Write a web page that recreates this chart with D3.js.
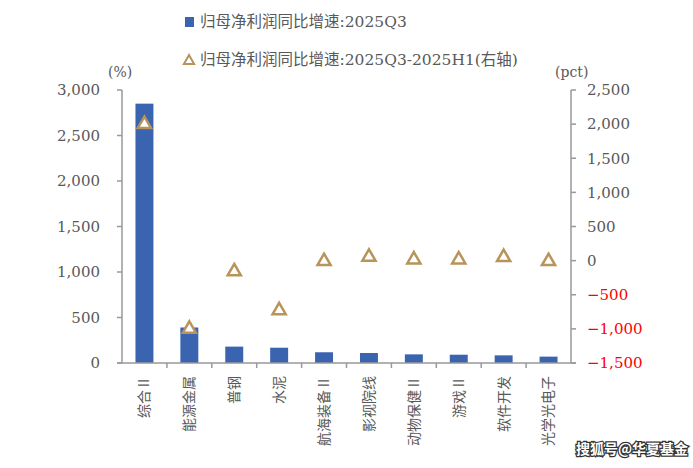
<!DOCTYPE html>
<meta charset="utf-8">
<head>
<style>
  body { margin: 0; background: #fff; }
  text { font-family: "DejaVu Serif", "Noto Sans CJK SC", serif; fill: #595959; }
</style>
</head>
<body>
<div id="chart"></div>
<script src="https://cdn.jsdelivr.net/npm/d3@7"></script>
<script>

var width = 693,
    height = 468;

// data
var categories = ['综合Ⅱ', '能源金属', '普钢', '水泥', '航海装备Ⅱ', '影视院线', '动物保健Ⅱ', '游戏Ⅱ', '软件开发', '光学光电子'];
var growthQ3 = [2850, 390, 180, 168, 118, 110, 95, 91, 84, 70];          // left axis, %
var growthDiff = [2000, -1000, -160, -730, -10, 55, 15, 15, 50, -10];     // right axis, pct
var leftTicks = [0, 500, 1000, 1500, 2000, 2500, 3000];
var rightTicks = [-1500, -1000, -500, 0, 500, 1000, 1500, 2000, 2500];

var bar_color = '#3a63b0',
    tri_color = '#b8935a',
    axis_color = '#999999';

var plot = { left: 122, right: 571, top: 90, bottom: 363 };

var svg = d3.select("#chart").append("svg")
    .attr("width", width)
    .attr("height", height);

var x = d3.scaleBand()
    .domain(categories)
    .range([plot.left, plot.right])
    .paddingInner(0.6)
    .paddingOuter(0.3);

var xEdge = d3.scaleLinear().domain([0, categories.length]).range([plot.left, plot.right]);

var yL = d3.scaleLinear().domain([0, 3000]).range([plot.bottom, plot.top]);
var yR = d3.scaleLinear().domain([-1500, 2500]).range([plot.bottom, plot.top]);

var fmt = d3.format(',');

// bars
svg.append('g').selectAll('rect')
    .data(growthQ3)
    .enter().append('rect')
    .attr('x', function(d, i) { return x(categories[i]); })
    .attr('width', x.bandwidth())
    .attr('y', function(d) { return yL(d); })
    .attr('height', function(d) { return yL(0) - yL(d); })
    .style('fill', bar_color);

// left axis
var left = svg.append('g').attr('transform', 'translate(' + plot.left + ',0)');
left.append('line').attr('y1', yL(3000)).attr('y2', yL(0)).style('stroke', axis_color).style('stroke-width', 1.5);
left.selectAll('.tk').data(leftTicks).enter().append('line')
    .attr('x1', -5).attr('x2', 0)
    .attr('y1', function(d) { return yL(d); }).attr('y2', function(d) { return yL(d); })
    .style('stroke', axis_color).style('stroke-width', 1.5);
left.selectAll('text').data(leftTicks).enter().append('text')
    .attr('x', -22).attr('y', function(d) { return yL(d); })
    .attr('dy', '0.35em')
    .attr('text-anchor', 'end')
    .style('font-size', '15px')
    .text(fmt);

// right axis
var right = svg.append('g').attr('transform', 'translate(' + plot.right + ',0)');
right.append('line').attr('y1', yR(2500)).attr('y2', yR(-1500)).style('stroke', axis_color).style('stroke-width', 1.5);
right.selectAll('.tk').data(rightTicks).enter().append('line')
    .attr('x1', 0).attr('x2', 5)
    .attr('y1', function(d) { return yR(d); }).attr('y2', function(d) { return yR(d); })
    .style('stroke', axis_color).style('stroke-width', 1.5);
right.selectAll('text').data(rightTicks).enter().append('text')
    .attr('x', 16).attr('y', function(d) { return yR(d); })
    .attr('dy', '0.35em')
    .style('font-size', '15px')
    .style('fill', function(d) { return d < 0 ? '#ff0000' : '#595959'; })
    .text(fmt);

// x axis
var bottom = svg.append('g');
bottom.append('line')
    .attr('x1', plot.left - 5).attr('x2', plot.right + 5)
    .attr('y1', plot.bottom).attr('y2', plot.bottom)
    .style('stroke', axis_color).style('stroke-width', 1.5);
bottom.selectAll('.tk').data(d3.range(1, categories.length)).enter().append('line')
    .attr('x1', function(d) { return xEdge(d); }).attr('x2', function(d) { return xEdge(d); })
    .attr('y1', plot.bottom).attr('y2', plot.bottom + 5)
    .style('stroke', axis_color).style('stroke-width', 1.5);
bottom.selectAll('text').data(categories).enter().append('text')
    .attr('transform', function(d) {
        return 'translate(' + (x(d) + x.bandwidth() / 2) + ',' + (plot.bottom + 13) + ') rotate(-90)';
    })
    .attr('dy', '0.35em')
    .attr('text-anchor', 'end')
    .style('font-size', '14px')
    .style('font-family', '"Noto Sans CJK SC", sans-serif')
    .text(function(d) { return d; });

// triangles (right axis)
var tri = d3.symbol().type(d3.symbolTriangle).size(75);
svg.append('g').selectAll('path')
    .data(growthDiff)
    .enter().append('path')
    .attr('d', tri)
    .attr('transform', function(d, i) {
        return 'translate(' + (x(categories[i]) + x.bandwidth() / 2) + ',' + yR(d) + ')';
    })
    .style('fill', '#fff')
    .style('stroke', tri_color)
    .style('stroke-width', 2.5);

// unit labels
svg.append('text').attr('x', 108).attr('y', 77).style('font-size', '14px').text('(%)');
svg.append('text').attr('x', 555).attr('y', 77).style('font-size', '14px').text('(pct)');

// legend
svg.append('rect').attr('x', 185).attr('y', 17).attr('width', 9).attr('height', 10).style('fill', bar_color);
svg.append('text').attr('x', 200).attr('y', 22).attr('dy', '0.35em').style('font-size', '15.5px')
    .text('归母净利润同比增速:2025Q3');
svg.append('path').attr('d', d3.symbol().type(d3.symbolTriangle).size(45))
    .attr('transform', 'translate(189,61)')
    .style('fill', '#fff').style('stroke', tri_color).style('stroke-width', 2);
svg.append('text').attr('x', 200).attr('y', 60).attr('dy', '0.35em').style('font-size', '15.5px')
    .text('归母净利润同比增速:2025Q3-2025H1(右轴)');

// watermark
svg.append('text').attr('x', 688).attr('y', 449).attr('dy', '0.35em')
    .attr('text-anchor', 'end')
    .style('font-size', '14px')
    .style('font-family', '"Noto Sans CJK SC", sans-serif')
    .style('font-weight', 'bold')
    .style('fill', '#fff')
    .style('stroke', '#333')
    .style('stroke-width', 2.5)
    .style('paint-order', 'stroke')
    .text('搜狐号@华夏基金');

</script>
</body>
